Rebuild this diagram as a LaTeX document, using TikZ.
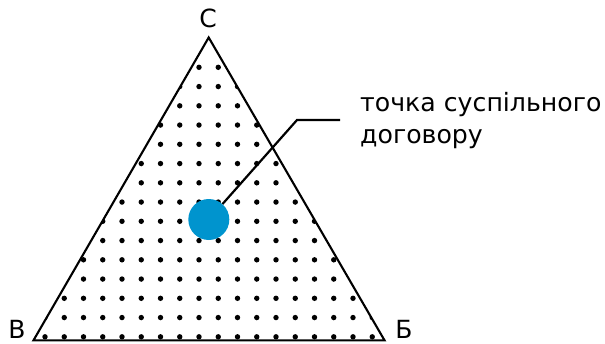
\documentclass[tikz,border=0pt]{standalone}
\usepackage{fontspec}
\setmainfont{DejaVu Sans}
\usepackage{xcolor}
\usepackage{tikz}
\usetikzlibrary{positioning,calc}

\definecolor{pointblue}{RGB}{0,148,206}

\begin{document}
\begin{tikzpicture}[
  x=1pt, y=-1pt,
  side/.style={line width=2.1pt, line join=miter},
  vlabel/.style={font=\fontsize{25}{28}\selectfont, inner sep=0pt},
  gridpt/.style={fill=black},
  lead/.style={line width=2.2pt},
  note/.style={font=\fontsize{25.2}{31.6}\selectfont, align=left,
               inner sep=0pt, anchor=north west}
]
  \useasboundingbox (0,0) rectangle (605,343);

  % corners of the triangle
  \coordinate (top) at (208.7,37.5);
  \coordinate (left) at (33.5,340.3);
  \coordinate (right) at (384.5,340.3);

  % grid of points inside
  \begin{scope}
    \clip (top) -- (left) -- (right) -- cycle;
    \foreach \i in {-1,...,18}
      \foreach \j in {0,...,14}
        \fill[gridpt] (45+19.25*\i, 67.3+19.25*\j) circle (2.7);
  \end{scope}

  \draw[side] (top) -- (left) -- (right) -- cycle;

  \node[vlabel] (c) at (208,18) {С};
  \node[vlabel] (v) at (17,329) {В};
  \node[vlabel] (b) at (404,329) {Б};

  \node[circle, fill=pointblue, minimum size=41pt, inner sep=0pt]
    (point) at (208.8,219.5) {};

  \coordinate (bend) at (297,120);
  \coordinate (leadend) at (340,120);
  \node[note] (label) at (360,92.5) {точка суспільного\\договору};

  \draw[lead] (point) -- (bend) -- (leadend);
\end{tikzpicture}
\end{document}
